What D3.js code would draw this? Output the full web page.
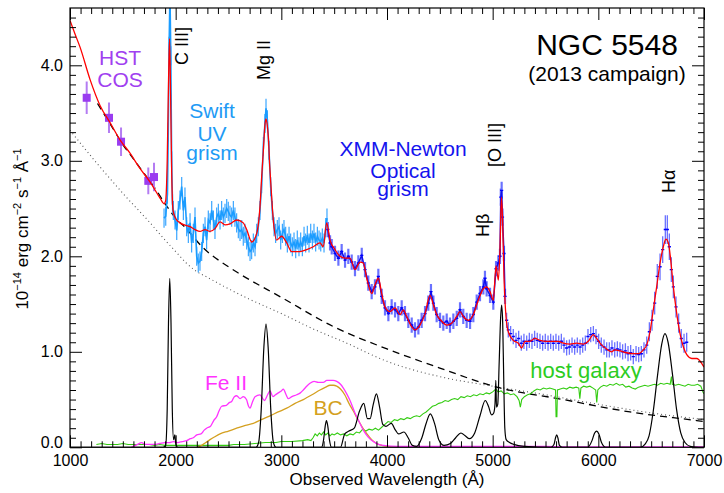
<!DOCTYPE html>
<html>
<head>
<meta charset="utf-8">
<script src="https://cdn.jsdelivr.net/npm/d3@7"></script>
<style>
body { margin: 0; background: #fff; }
svg { font-family: "Liberation Sans", Arial, Helvetica, sans-serif; }
</style>
</head>
<body>
<svg id="chart" width="724" height="493"></svg>
<script>
// ---- data (wavelength in Angstrom, flux in 1e-14 erg/cm2/s/A) ----
var xTicks = [1000, 2000, 3000, 4000, 5000, 6000, 7000];
var yTicks = [0, 1, 2, 3, 4];

// HST COS points
var hstWave = [1158, 1369, 1483, 1741, 1795];
var hstFlux = [3.66, 3.45, 3.20, 2.79, 2.83];
var hstErr  = [0.17, 0.16, 0.15, 0.14, 0.15];

// full model (red)
var modelFit = [[1000,4.47],[1050,4.32],[1095,4.19],[1190,3.85],[1284,3.58],[1379,3.40],[1473,3.22],[1568,3.08],
  [1662,2.92],[1757,2.78],[1852,2.61],[1890,2.55],[1905,2.58],[1920,3.0],[1932,3.8],[1942,4.28],[1952,3.7],
  [1962,2.9],[1975,2.48],[1994,2.41],[2041,2.35],[2136,2.31],[2183,2.28],[2230,2.26],[2278,2.28],[2325,2.26],
  [2372,2.29],[2420,2.36],[2467,2.33],[2514,2.34],[2578,2.38],[2640,2.35],[2672,2.28],[2720,2.15],[2767,2.24],
  [2798,2.52],[2815,2.85],[2830,3.11],[2845,3.38],[2855,3.44],[2866,3.38],[2877,3.25],[2890,2.95],[2900,2.77],
  [2924,2.38],[2956,2.17],[3003,2.21],[3051,2.14],[3098,2.05],[3177,2.05],[3240,2.07],[3303,2.10],[3366,2.14],
  [3397,2.10],[3429,2.35],[3461,2.17],[3508,2.07],[3555,2.00],[3603,1.98],[3650,1.98],[3697,1.86],[3745,1.94],
  [3776,1.93],[3808,1.77],[3855,1.61],[3886,1.70],[3918,1.77],[3950,1.61],[3981,1.47],[4028,1.42],[4076,1.46],
  [4123,1.39],[4155,1.44],[4186,1.37],[4234,1.26],[4265,1.23],[4312,1.28],[4360,1.40],[4407,1.59],[4439,1.49],
  [4470,1.39],[4518,1.32],[4565,1.28],[4612,1.30],[4660,1.37],[4691,1.42],[4722,1.37],[4770,1.33],[4817,1.39],
  [4864,1.54],[4912,1.66],[4943,1.68],[4975,1.63],[5006,1.54],[5032,1.90],[5054,1.75],[5069,2.07],[5083,2.62],
  [5093,2.41],[5107,1.79],[5126,1.37],[5148,1.21],[5195,1.12],[5243,1.09],[5274,1.04],[5306,1.11],[5353,1.11],
  [5401,1.14],[5448,1.12],[5511,1.11],[5574,1.11],[5621,1.11],[5669,1.09],[5732,1.08],[5795,1.09],[5858,1.08],
  [5905,1.11],[5953,1.18],[5984,1.14],[6032,1.07],[6079,1.03],[6126,1.00],[6158,1.02],[6205,1.01],[6268,0.99],
  [6331,0.98],[6379,0.98],[6426,1.02],[6457,1.07],[6489,1.21],[6520,1.44],[6552,1.68],[6584,1.93],[6615,2.10],
  [6640,2.18],[6663,2.14],[6685,1.96],[6710,1.68],[6742,1.40],[6773,1.19],[6805,1.05],[6837,0.97],[6884,0.93],
  [6931,0.93],[6978,0.88],[7000,0.84]];

// Swift UV grism
var swiftData = [[1890,2.40],[1906,2.42],[1922,2.65],[1930,3.30],[1938,4.20],[1946,4.75],[1954,4.10],[1962,3.00],
  [1970,2.55],[1978,2.48],[1994,2.38],[2010,2.27],[2025,2.48],[2041,2.59],[2057,2.73],[2073,2.48],[2088,2.62],
  [2104,2.31],[2120,2.24],[2136,2.35],[2151,2.14],[2167,2.24],[2183,2.41],[2199,2.00],[2214,1.93],[2230,1.95],
  [2246,2.05],[2262,2.24],[2278,2.31],[2293,2.17],[2309,2.38],[2325,2.35],[2341,2.48],[2357,2.38],[2372,2.28],
  [2388,2.41],[2404,2.45],[2420,2.38],[2435,2.48],[2451,2.41],[2467,2.45],[2483,2.50],[2498,2.47],[2514,2.43],
  [2530,2.41],[2546,2.48],[2561,2.41],[2577,2.35],[2593,2.29],[2609,2.26],[2625,2.28],[2640,2.21],[2656,2.24],
  [2672,2.17],[2688,2.10],[2704,2.05],[2719,2.07],[2735,2.14],[2751,2.10],[2767,2.24],[2782,2.31],[2798,2.48],
  [2814,2.76],[2830,3.15],[2845,3.39],[2855,3.55],[2868,3.43],[2883,3.11],[2899,2.73],[2915,2.48],[2931,2.31],
  [2946,2.24],[2962,2.28],[2978,2.31],[2994,2.17],[3010,2.24],[3025,2.28],[3041,2.21],[3057,2.14],[3073,2.21],
  [3088,2.14],[3104,2.10],[3120,2.15],[3136,2.08],[3151,2.17],[3167,2.10],[3183,2.15],[3199,2.10],[3215,2.21],
  [3230,2.14],[3246,2.22],[3262,2.14],[3278,2.24],[3294,2.17],[3309,2.24],[3325,2.15],[3341,2.21],[3357,2.17],
  [3373,2.15],[3388,2.19],[3404,2.14],[3420,2.30],[3432,2.40]];
var swiftErr = 0.1;

// XMM-Newton optical grism: [wave, flux, err]
var xmmData = [[3440,2.28,0.08],[3461,2.14,0.08],[3477,2.10,0.08],[3508,2.03,0.08],[3540,1.98,0.08],[3571,2.05,0.08],
  [3603,1.96,0.08],[3634,2.00,0.08],[3666,1.94,0.08],[3697,1.87,0.08],[3729,1.93,0.08],[3761,2.01,0.08],
  [3792,1.86,0.08],[3823,1.72,0.08],[3855,1.63,0.08],[3886,1.68,0.08],[3918,1.79,0.08],[3950,1.58,0.08],
  [3981,1.46,0.08],[4013,1.40,0.08],[4044,1.47,0.08],[4076,1.44,0.08],[4107,1.40,0.08],[4139,1.46,0.08],
  [4170,1.40,0.08],[4202,1.33,0.08],[4234,1.28,0.08],[4265,1.23,0.08],[4297,1.26,0.08],[4328,1.33,0.08],
  [4360,1.40,0.08],[4391,1.51,0.08],[4416,1.63,0.08],[4439,1.51,0.08],[4470,1.39,0.08],[4502,1.33,0.08],
  [4533,1.30,0.08],[4565,1.32,0.08],[4596,1.28,0.08],[4628,1.32,0.08],[4660,1.35,0.08],[4691,1.44,0.08],
  [4722,1.37,0.08],[4754,1.33,0.08],[4786,1.32,0.08],[4817,1.39,0.08],[4849,1.52,0.08],[4880,1.61,0.08],
  [4912,1.68,0.08],[4927,1.77,0.08],[4943,1.66,0.08],[4975,1.59,0.08],[5006,1.52,0.08],[5032,1.87,0.08],
  [5054,1.93,0.08],[5069,2.00,0.08],[5077,2.62,0.09],[5085,2.69,0.09],[5093,2.41,0.09],[5107,2.03,0.08],
  [5117,1.58,0.08],[5132,1.33,0.08],[5148,1.23,0.08],[5170,1.19,0.08],[5195,1.16,0.08],[5221,1.12,0.08],
  [5246,1.14,0.08],[5271,1.09,0.08],[5296,1.11,0.08],[5322,1.09,0.08],[5347,1.12,0.08],[5372,1.11,0.08],
  [5397,1.14,0.08],[5422,1.12,0.08],[5448,1.11,0.08],[5473,1.09,0.08],[5498,1.11,0.08],[5524,1.09,0.08],
  [5549,1.11,0.08],[5574,1.09,0.08],[5599,1.11,0.08],[5625,1.09,0.08],[5650,1.11,0.08],[5675,1.07,0.08],
  [5700,1.04,0.08],[5726,1.05,0.08],[5751,1.07,0.08],[5776,1.05,0.08],[5801,1.07,0.08],[5827,1.05,0.08],
  [5852,1.07,0.08],[5877,1.09,0.08],[5902,1.16,0.08],[5928,1.18,0.08],[5953,1.19,0.08],[5978,1.16,0.08],
  [6003,1.11,0.08],[6028,1.07,0.08],[6054,1.05,0.08],[6079,1.02,0.08],[6104,1.02,0.08],[6129,1.04,0.08],
  [6155,1.02,0.08],[6180,1.03,0.08],[6205,1.02,0.08],[6230,1.00,0.08],[6256,1.01,0.08],[6281,0.98,0.08],
  [6306,0.99,0.08],[6331,0.95,0.08],[6357,0.98,0.08],[6382,0.97,0.08],[6407,0.98,0.08],[6432,1.02,0.08],
  [6458,1.07,0.09],[6483,1.21,0.10],[6508,1.33,0.11],[6533,1.51,0.12],[6558,1.79,0.13],[6584,1.89,0.14],
  [6609,2.07,0.14],[6634,2.28,0.15],[6653,2.28,0.15],[6672,2.10,0.14],[6691,1.86,0.13],[6710,1.68,0.12],
  [6735,1.47,0.11],[6760,1.30,0.10],[6785,1.14,0.10],[6811,1.09,0.10],[6836,1.10,0.10]];

// power-law continuum (dashed) and reddened continuum (dotted)
var powerLaw = [[1260,3.60],[1400,3.35],[1500,3.17],[1600,3.02],[1700,2.87],[1800,2.72],[1900,2.55],[2000,2.40],
  [2100,2.29],[2250,2.10],[2500,1.89],[2600,1.82],[3000,1.57],[3500,1.26],[4000,1.03],[4500,0.83],[5038,0.63],
  [5669,0.50],[6300,0.37],[6931,0.28],[7000,0.27]];
var dottedCont = [[1000,3.32],[1250,2.98],[1500,2.66],[1750,2.36],[1900,2.17],[2000,2.05],[2100,1.93],[2200,1.84],
  [2300,1.78],[2500,1.66],[2700,1.55],[3000,1.40],[3300,1.24],[3600,1.10],[4000,0.90],[4500,0.74],[5000,0.64],
  [5500,0.55],[6000,0.45],[6500,0.36],[7000,0.29]];

// emission lines (black)
var emLines = [[1000,0],[1880,0],[1905,0.02],[1920,0.4],[1932,1.3],[1944,1.77],[1956,1.3],[1968,0.4],[1980,0.08],
  [1992,0.13],[2002,0.03],[2020,0],[2760,0],[2785,0.05],[2810,0.4],[2835,1.05],[2855,1.29],[2875,1.05],
  [2900,0.4],[2925,0.05],[2950,0],[3380,0],[3400,0.08],[3415,0.22],[3427,0.28],[3440,0.22],[3455,0.08],
  [3475,0],[3560,0],[3600,0.14],[3640,0.17],[3690,0.2],[3740,0.38],[3780,0.46],[3815,0.3],[3840,0.3],
  [3870,0.45],[3900,0.56],[3930,0.42],[3960,0.24],[3990,0.22],[4040,0.25],[4080,0.18],[4110,0.14],[4160,0.16],
  [4200,0.1],[4240,0.02],[4280,0.01],[4330,0.1],[4370,0.25],[4410,0.35],[4450,0.25],[4490,0.08],[4540,0.02],
  [4600,0.04],[4650,0.1],[4700,0.15],[4740,0.12],[4780,0.09],[4830,0.15],[4880,0.33],[4930,0.49],[4960,0.43],
  [4990,0.34],[5010,0.36],[5022,0.45],[5030,0.70],[5036,0.42],[5048,0.45],[5062,0.9],[5075,1.35],[5085,1.49],
  [5095,1.3],[5105,0.7],[5115,0.2],[5128,0.08],[5160,0.05],[5200,0.03],[5300,0.01],[5550,0],[5580,0.03],
  [5595,0.1],[5606,0.13],[5617,0.1],[5632,0.02],[5660,0],[5900,0],[5940,0.07],[5965,0.15],[5985,0.17],
  [6005,0.14],[6030,0.05],[6070,0],[6400,0],[6440,0.03],[6480,0.12],[6520,0.38],[6560,0.75],[6600,1.08],
  [6630,1.19],[6660,1.1],[6700,0.78],[6740,0.4],[6780,0.15],[6820,0.05],[6870,0.01],[6950,0],[7000,0]];

// Fe II template (magenta)
var feII = [[1580,0],[1600,0.01],[1640,0.03],[1678,0.05],[1710,0.03],[1750,0.03],[1800,0.03],[1850,0.04],
  [1899,0.05],[1940,0.05],[1978,0.06],[2020,0.05],[2060,0.06],[2104,0.07],[2140,0.09],[2167,0.10],[2200,0.13],
  [2240,0.14],[2270,0.18],[2293,0.20],[2330,0.22],[2360,0.28],[2388,0.32],[2410,0.38],[2435,0.43],[2480,0.44],
  [2510,0.47],[2530,0.48],[2555,0.53],[2577,0.54],[2610,0.51],[2640,0.53],[2670,0.50],[2690,0.43],[2704,0.41],
  [2725,0.47],[2751,0.53],[2798,0.55],[2840,0.49],[2870,0.55],[2893,0.59],[2920,0.53],[2945,0.55],[2971,0.57],
  [3000,0.59],[3019,0.61],[3045,0.55],[3066,0.51],[3100,0.53],[3145,0.55],[3180,0.57],[3208,0.60],[3240,0.64],
  [3271,0.67],[3310,0.69],[3350,0.68],[3397,0.68],[3430,0.70],[3461,0.70],[3490,0.70],[3524,0.69],[3560,0.66],
  [3587,0.62],[3619,0.56],[3650,0.49],[3697,0.36],[3740,0.26],[3776,0.18],[3820,0.11],[3870,0.06],[3920,0.03],
  [3966,0.02],[4100,0.01],[5500,0.01],[5700,0.005],[7000,0.005]];

// Balmer continuum (gold)
var balmerCont = [[2200,0],[2246,0.02],[2285,0.05],[2325,0.08],[2370,0.11],[2420,0.14],[2500,0.17],[2577,0.20],
  [2660,0.23],[2735,0.25],[2810,0.29],[2893,0.33],[2970,0.37],[3051,0.41],[3130,0.46],[3208,0.50],[3290,0.55],
  [3366,0.60],[3420,0.63],[3461,0.65],[3492,0.65],[3524,0.64],[3560,0.61],[3600,0.55],[3640,0.46],[3681,0.38],
  [3720,0.30],[3761,0.22],[3810,0.14],[3855,0.08],[3900,0.04],[3950,0.02],[4000,0.01],[4100,0]];

// host galaxy (green)
var hostGalaxy = [[1250,0.03],[1300,0.04],[1350,0.03],[1400,0.03],[1450,0.03],[1500,0.04],[1550,0.03],[1600,0.03],
  [1650,0.03],[1700,0.03],[1750,0.03],[1800,0.02],[1850,0.03],[1900,0.02],[1950,0.02],[2000,0.02],[2100,0.02],
  [2200,0.02],[2300,0.02],[2400,0.02],[2500,0.02],[2550,0.03],[2650,0.03],[2750,0.04],[2850,0.05],[2950,0.05],
  [3000,0.06],[3100,0.06],[3200,0.07],[3250,0.08],[3280,0.07],[3300,0.10],[3320,0.14],[3340,0.12],[3360,0.15],
  [3380,0.13],[3400,0.16],[3420,0.13],[3440,0.15],[3460,0.12],[3480,0.14],[3500,0.13],[3530,0.15],[3560,0.13],
  [3590,0.14],[3620,0.12],[3650,0.14],[3680,0.13],[3710,0.16],[3740,0.15],[3770,0.19],[3800,0.17],[3830,0.19],
  [3860,0.18],[3890,0.20],[3920,0.18],[3950,0.21],[3980,0.24],[4010,0.27],[4040,0.26],[4070,0.29],[4100,0.28],
  [4130,0.30],[4160,0.29],[4190,0.31],[4220,0.30],[4250,0.32],[4280,0.33],[4310,0.32],[4340,0.35],[4370,0.37],
  [4400,0.40],[4430,0.43],[4460,0.44],[4490,0.46],[4520,0.47],[4550,0.49],[4580,0.48],[4610,0.50],[4640,0.51],
  [4670,0.50],[4700,0.53],[4730,0.52],[4760,0.54],[4790,0.53],[4820,0.55],[4850,0.54],[4880,0.56],[4910,0.55],
  [4940,0.57],[4970,0.56],[5000,0.58],[5030,0.61],[5050,0.58],[5080,0.59],[5110,0.56],[5140,0.57],[5170,0.55],
  [5200,0.56],[5230,0.53],[5250,0.49],[5262,0.42],[5275,0.50],[5300,0.53],[5330,0.55],[5360,0.56],[5390,0.59],
  [5420,0.61],[5450,0.60],[5480,0.62],[5510,0.61],[5540,0.62],[5570,0.61],[5595,0.60],[5600,0.32],[5608,0.32],
  [5613,0.60],[5640,0.61],[5670,0.62],[5700,0.61],[5730,0.63],[5760,0.62],[5790,0.63],[5815,0.62],[5825,0.51],
  [5835,0.62],[5860,0.64],[5890,0.63],[5920,0.64],[5950,0.62],[5975,0.60],[5985,0.47],[5995,0.60],[6020,0.63],
  [6050,0.65],[6080,0.64],[6110,0.66],[6140,0.65],[6170,0.67],[6200,0.65],[6230,0.66],[6260,0.63],[6290,0.64],
  [6320,0.62],[6350,0.61],[6380,0.63],[6410,0.64],[6440,0.65],[6470,0.64],[6500,0.65],[6530,0.66],[6560,0.65],
  [6590,0.67],[6620,0.66],[6650,0.67],[6680,0.66],[6692,0.74],[6700,0.66],[6730,0.65],[6760,0.66],[6790,0.65],
  [6820,0.64],[6850,0.66],[6880,0.65],[6910,0.65],[6940,0.66],[6970,0.64],[6990,0.58],[7000,0.56]];

// ---- chart ----
var svg = d3.select("#chart");
var plotL = 70, plotR = 704, plotT = 8, plotB = 447.3;

var x = d3.scaleLinear().domain([1000, 7000]).range([plotL, plotR]);
var y = d3.scaleLinear().domain([0, 4.6]).range([plotB, plotT]);

svg.append("clipPath").attr("id", "clip")
  .append("rect").attr("x", plotL).attr("y", plotT).attr("width", plotR - plotL).attr("height", plotB - plotT);

var plot = svg.append("g").attr("clip-path", "url(#clip)");

var line = d3.line().x(function(d) { return x(d[0]); }).y(function(d) { return y(d[1]); });
var smooth = d3.line().curve(d3.curveMonotoneX)
  .x(function(d) { return x(d[0]); }).y(function(d) { return y(d[1]); });

// continua
plot.append("path").attr("d", smooth(dottedCont)).attr("fill", "none")
  .attr("stroke", "#555").attr("stroke-width", 1.1).attr("stroke-dasharray", "1,3");
plot.append("path").attr("d", smooth(powerLaw)).attr("fill", "none")
  .attr("stroke", "#000").attr("stroke-width", 1.3).attr("stroke-dasharray", "7,5");

// components
plot.append("path").attr("d", line(hostGalaxy)).attr("fill", "none").attr("stroke", "#33cc11").attr("stroke-width", 1.1);
plot.append("path").attr("d", smooth(balmerCont)).attr("fill", "none").attr("stroke", "#d4a020").attr("stroke-width", 1.3);
plot.append("path").attr("d", smooth(feII)).attr("fill", "none").attr("stroke", "#ff33ff").attr("stroke-width", 1.3);
plot.append("path").attr("d", smooth(emLines)).attr("fill", "none").attr("stroke", "#000").attr("stroke-width", 1.2);

// Swift data
plot.selectAll(".swErr").data(swiftData).enter().append("line")
  .attr("x1", function(d) { return x(d[0]); }).attr("x2", function(d) { return x(d[0]); })
  .attr("y1", function(d) { return y(d[1] - swiftErr); }).attr("y2", function(d) { return y(d[1] + swiftErr); })
  .attr("stroke", "#3aa6ff").attr("stroke-width", 1.2);
plot.append("path").attr("d", line(swiftData)).attr("fill", "none").attr("stroke", "#1a9cff").attr("stroke-width", 1.6);

// XMM data
plot.selectAll(".xErr").data(xmmData).enter().append("line")
  .attr("x1", function(d) { return x(d[0]); }).attr("x2", function(d) { return x(d[0]); })
  .attr("y1", function(d) { return y(d[1] - d[2]); }).attr("y2", function(d) { return y(d[1] + d[2]); })
  .attr("stroke", "#6a72ff").attr("stroke-width", function(d) { return d[0] < 5120 ? 2.2 : 1.3; });
var dense = xmmData.filter(function(d) { return d[0] < 5120; });
plot.append("path").attr("d", line(dense)).attr("fill", "none").attr("stroke", "#1010ee").attr("stroke-width", 1.5);
plot.selectAll(".xPt").data(xmmData).enter().append("line")
  .attr("x1", function(d) { return x(d[0]) - 1.6; }).attr("x2", function(d) { return x(d[0]) + 1.6; })
  .attr("y1", function(d) { return y(d[1]); }).attr("y2", function(d) { return y(d[1]); })
  .attr("stroke", "#0000ff").attr("stroke-width", 1.4);

// HST COS points
hstWave.forEach(function(w, i) {
  plot.append("line").attr("x1", x(w)).attr("x2", x(w))
    .attr("y1", y(hstFlux[i] - hstErr[i])).attr("y2", y(hstFlux[i] + hstErr[i]))
    .attr("stroke", "#b47cf2").attr("stroke-width", 2);
  plot.append("rect").attr("x", x(w) - 4).attr("y", y(hstFlux[i]) - 4).attr("width", 8).attr("height", 8)
    .attr("fill", "#9a3cf0");
});

// total model
plot.append("path").attr("d", smooth(modelFit)).attr("fill", "none").attr("stroke", "#ff0000").attr("stroke-width", 1.3);

// ---- axes ----
var minorX = d3.range(1000, 7001, 100).filter(function(v) { return v % 1000 != 0; });
var minorY = d3.range(0, 46).map(function(i) { return i / 10; }).filter(function(v) { return Math.abs(v - Math.round(v)) > 0.01; });

function styleAxis(g) {
  g.select(".domain").remove();
  g.selectAll("line").attr("stroke", "#000").attr("stroke-width", 1);
  g.selectAll("text").attr("font-size", 16).attr("fill", "#000").attr("font-family", "Liberation Sans, Arial, sans-serif");
}

svg.append("g").attr("transform", "translate(0," + plotB + ")")
  .call(d3.axisBottom(x).tickValues(xTicks).tickSize(-12).tickPadding(7).tickFormat(d3.format("d"))).call(styleAxis);
svg.append("g").attr("transform", "translate(0," + plotB + ")")
  .call(d3.axisBottom(x).tickValues(minorX).tickSize(-6).tickFormat("")).call(styleAxis);
svg.append("g").attr("transform", "translate(0," + plotT + ")")
  .call(d3.axisTop(x).tickValues(xTicks).tickSize(-12).tickFormat("")).call(styleAxis);
svg.append("g").attr("transform", "translate(0," + plotT + ")")
  .call(d3.axisTop(x).tickValues(minorX).tickSize(-6).tickFormat("")).call(styleAxis);

var yAxisG = svg.append("g").attr("transform", "translate(" + plotL + ",0)")
  .call(d3.axisLeft(y).tickValues(yTicks).tickSize(-12).tickPadding(7).tickFormat(d3.format(".1f"))).call(styleAxis);
// lift the 0.0 label clear of the x labels
yAxisG.selectAll(".tick").filter(function(d) { return d === 0; }).select("text").attr("dy", "0.0em");
svg.append("g").attr("transform", "translate(" + plotL + ",0)")
  .call(d3.axisLeft(y).tickValues(minorY).tickSize(-6).tickFormat("")).call(styleAxis);
svg.append("g").attr("transform", "translate(" + plotR + ",0)")
  .call(d3.axisRight(y).tickValues(yTicks).tickSize(-12).tickFormat("")).call(styleAxis);
svg.append("g").attr("transform", "translate(" + plotR + ",0)")
  .call(d3.axisRight(y).tickValues(minorY).tickSize(-6).tickFormat("")).call(styleAxis);

svg.append("rect").attr("x", plotL).attr("y", plotT).attr("width", plotR - plotL).attr("height", plotB - plotT)
  .attr("fill", "none").attr("stroke", "#000").attr("stroke-width", 1.2);

// axis titles
svg.append("text").attr("x", (plotL + plotR) / 2).attr("y", 485).attr("text-anchor", "middle")
  .attr("font-size", 17).text("Observed Wavelength (Å)");

var yt = svg.append("text").attr("transform", "translate(28,229) rotate(-90)").attr("text-anchor", "middle").attr("font-size", 17);
yt.append("tspan").text("10");
yt.append("tspan").attr("dy", -7).attr("font-size", 11).text("−14");
yt.append("tspan").attr("dy", 7).text(" erg cm");
yt.append("tspan").attr("dy", -7).attr("font-size", 11).text("−2");
yt.append("tspan").attr("dy", 7).text(" s");
yt.append("tspan").attr("dy", -7).attr("font-size", 11).text("−1");
yt.append("tspan").attr("dy", 7).text(" Å");
yt.append("tspan").attr("dy", -7).attr("font-size", 11).text("−1");

// title
svg.append("text").attr("x", 607).attr("y", 55).attr("text-anchor", "middle").attr("font-size", 30).text("NGC 5548");
svg.append("text").attr("x", 607).attr("y", 81).attr("text-anchor", "middle").attr("font-size", 21).text("(2013 campaign)");

// data set labels
function label(txt, cx, cy, color, size) {
  svg.append("text").attr("x", cx).attr("y", cy).attr("text-anchor", "middle")
    .attr("font-size", size).attr("fill", color).text(txt);
}
label("HST", 120, 65, "#a040f0", 21);
label("COS", 120, 87, "#a040f0", 21);
label("Swift", 212, 118, "#1e9bf5", 21);
label("UV", 212, 141, "#1e9bf5", 21);
label("grism", 212, 160, "#1e9bf5", 21);
label("XMM-Newton", 403, 156, "#1414ee", 21);
label("Optical", 403, 178, "#1414ee", 21);
label("grism", 403, 196, "#1414ee", 21);
label("Fe II", 226, 390, "#ff33ff", 21);
label("BC", 328, 415, "#d4a020", 21);
label("host galaxy", 586, 378, "#2ccc22", 22);

// line labels (rotated)
function lineLabel(txt, bx, by) {
  svg.append("text").attr("transform", "translate(" + bx + "," + by + ") rotate(-90)")
    .attr("font-size", 18).attr("fill", "#000").text(txt);
}
lineLabel("C III]", 188, 65);
lineLabel("Mg II", 270, 80);
lineLabel("[O III]", 501, 167);
lineLabel("Hβ", 489, 237);
lineLabel("Hα", 675, 193);
</script>
</body>
</html>
